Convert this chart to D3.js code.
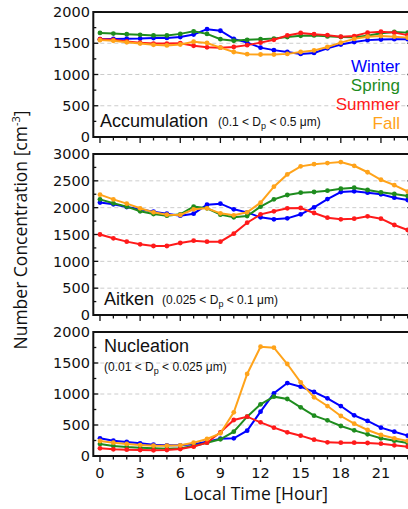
<!DOCTYPE html>
<html>
<head>
<meta charset="utf-8">
<script src="https://cdn.jsdelivr.net/npm/d3@7"></script>
<style>
  body { margin: 0; background: #fff; }
  svg { display: block; }
  .tick-label { font-family: "DejaVu Sans", sans-serif; font-size: 14.5px; fill: #111; }
  .axis-title { font-family: "Open Sans", sans-serif; font-size: 17.5px; fill: #111; }
  .panel-name { font-family: "Liberation Sans", Arial, sans-serif; font-size: 18px; fill: #111; }
  .panel-range { font-family: "Liberation Sans", Arial, sans-serif; font-size: 12px; fill: #111; }
  .legend { font-family: "Liberation Sans", Arial, sans-serif; font-size: 17px; }
</style>
</head>
<body>
<div id="chart"></div>
<script>
var svgWidth = 408;
var svgHeight = 509;

// local hour of day
var hours = [0, 1, 2, 3, 4, 5, 6, 7, 8, 9, 10, 11, 12, 13, 14, 15, 16, 17, 18, 19, 20, 21, 22, 23];
var xTicks = [0, 3, 6, 9, 12, 15, 18, 21];

var seasons = ["Winter", "Spring", "Summer", "Fall"];
var seasonColors = ["#0000ff", "#1e8c1e", "#ff1a1a", "#ffa31a"];

// Accumulation mode (0.1 < Dp < 0.5 um)
var accWinter = [1565, 1568, 1572, 1575, 1583, 1585, 1600, 1640, 1725, 1700, 1570, 1510, 1430, 1390, 1360, 1330, 1345, 1420, 1480, 1520, 1550, 1560, 1565, 1565];
var accSpring = [1665, 1655, 1645, 1635, 1625, 1625, 1650, 1690, 1650, 1565, 1540, 1555, 1565, 1575, 1600, 1620, 1625, 1610, 1600, 1595, 1620, 1660, 1680, 1670];
var accSummer = [1565, 1555, 1530, 1510, 1495, 1495, 1500, 1460, 1435, 1430, 1440, 1470, 1510, 1555, 1625, 1665, 1645, 1630, 1605, 1615, 1670, 1685, 1670, 1630];
var accFall = [1550, 1540, 1515, 1495, 1475, 1465, 1480, 1525, 1505, 1430, 1360, 1325, 1320, 1320, 1330, 1360, 1385, 1440, 1510, 1570, 1605, 1615, 1605, 1590];

// Aitken mode (0.025 < Dp < 0.1 um)
var aitWinter = [2095, 2062, 2012, 1969, 1925, 1888, 1851, 1888, 2056, 2075, 1969, 1913, 1820, 1783, 1801, 1876, 2006, 2161, 2292, 2304, 2279, 2248, 2186, 2143];
var aitSpring = [2155, 2081, 2019, 1932, 1882, 1851, 1876, 2019, 1988, 1870, 1820, 1845, 2019, 2155, 2236, 2279, 2292, 2317, 2354, 2373, 2329, 2286, 2255, 2217];
var aitSummer = [1500, 1429, 1367, 1317, 1286, 1286, 1342, 1385, 1367, 1367, 1516, 1720, 1876, 1932, 1988, 1994, 1901, 1814, 1783, 1795, 1839, 1795, 1677, 1584];
var aitFall = [2242, 2155, 2075, 1988, 1913, 1870, 1863, 1969, 1988, 1894, 1857, 1913, 2093, 2391, 2620, 2770, 2810, 2830, 2850, 2780, 2660, 2520, 2420, 2300];

// Nucleation mode (0.01 < Dp < 0.025 um)
var nucWinter = [285, 247, 226, 204, 183, 172, 172, 188, 231, 280, 285, 409, 715, 1011, 1177, 1118, 1032, 930, 806, 656, 565, 457, 392, 328];
var nucSpring = [194, 161, 145, 134, 124, 118, 124, 161, 215, 269, 392, 634, 833, 957, 919, 785, 651, 575, 484, 414, 349, 285, 247, 210];
var nucSummer = [124, 108, 102, 97, 91, 97, 113, 151, 215, 382, 581, 634, 543, 457, 382, 328, 263, 220, 215, 215, 210, 199, 172, 151];
var nucFall = [242, 215, 194, 177, 167, 167, 172, 215, 274, 366, 704, 1323, 1763, 1747, 1484, 1188, 946, 806, 645, 522, 419, 339, 285, 242];

var panels = [
  { name: "Accumulation", lo: "0.1", hi: "0.5", max: 2000, top: 12, bottom: 137,
    series: [accWinter, accSpring, accSummer, accFall] },
  { name: "Aitken", lo: "0.025", hi: "0.1", max: 3000, top: 154, bottom: 315,
    series: [aitWinter, aitSpring, aitSummer, aitFall] },
  { name: "Nucleation", lo: "0.01", hi: "0.025", max: 2000, top: 332, bottom: 456,
    series: [nucWinter, nucSpring, nucSummer, nucFall] }
];

var svg = d3.select("#chart")
  .append("svg")
  .attr("width", svgWidth)
  .attr("height", svgHeight);

var x = d3.scaleLinear()
  .domain([-0.5, 23.5])
  .range([93.3, 414.4]);

panels.forEach(function(p, pi) {
  var y = d3.scaleLinear()
    .domain([0, p.max])
    .range([p.bottom, p.top]);

  var g = svg.append("g");

  var majors = d3.range(0, p.max + 1, 500);
  var minors = d3.range(250, p.max, 500);

  // dashed gridlines
  g.selectAll(".grid")
    .data(majors.filter(d => d > 0 && d < p.max))
    .enter()
    .append("line")
    .attr("x1", x.range()[0])
    .attr("x2", x.range()[1])
    .attr("y1", d => y(d))
    .attr("y2", d => y(d))
    .attr("stroke", "#cccccc")
    .attr("stroke-width", 1)
    .attr("stroke-dasharray", "4,3");

  // y ticks, inward on both sides
  var yTickData = majors.map(d => ({ v: d, len: 5 })).concat(minors.map(d => ({ v: d, len: 3 })));
  g.selectAll(".ytl")
    .data(yTickData)
    .enter()
    .append("line")
    .attr("x1", x.range()[0])
    .attr("x2", d => x.range()[0] + d.len)
    .attr("y1", d => y(d.v))
    .attr("y2", d => y(d.v))
    .attr("stroke", "#111")
    .attr("stroke-width", 1.3);
  g.selectAll(".ytr")
    .data(yTickData)
    .enter()
    .append("line")
    .attr("x1", x.range()[1])
    .attr("x2", d => x.range()[1] - d.len - 2)
    .attr("y1", d => y(d.v))
    .attr("y2", d => y(d.v))
    .attr("stroke", "#111")
    .attr("stroke-width", 1.3);

  // y tick labels
  g.selectAll(".ylab")
    .data(majors)
    .enter()
    .append("text")
    .attr("class", "tick-label")
    .attr("x", 90)
    .attr("y", d => y(d))
    .attr("dy", "0.36em")
    .attr("text-anchor", "end")
    .text(d => d);

  // x ticks, outward below frame
  g.selectAll(".xt")
    .data(hours.concat([24]))
    .enter()
    .append("line")
    .attr("x1", d => x(d))
    .attr("x2", d => x(d))
    .attr("y1", p.bottom)
    .attr("y2", d => p.bottom + (d % 3 === 0 ? 6 : 3.5))
    .attr("stroke", "#111")
    .attr("stroke-width", 1.3);

  if (pi === panels.length - 1) {
    g.selectAll(".xlab")
      .data(xTicks)
      .enter()
      .append("text")
      .attr("class", "tick-label")
      .attr("x", d => x(d))
      .attr("y", 478)
      .attr("text-anchor", "middle")
      .text(d => d);
  }

  // series lines and markers
  var line = d3.line()
    .x((d, i) => x(hours[i]))
    .y(d => y(d));

  p.series.forEach(function(vals, si) {
    g.append("path")
      .datum(vals)
      .attr("d", line)
      .attr("fill", "none")
      .attr("stroke", seasonColors[si])
      .attr("stroke-width", 2);
    g.selectAll(".pt" + si)
      .data(vals)
      .enter()
      .append("circle")
      .attr("cx", (d, i) => x(hours[i]))
      .attr("cy", d => y(d))
      .attr("r", 2.4)
      .attr("fill", seasonColors[si]);
  });

  // frame
  g.append("rect")
    .attr("x", x.range()[0])
    .attr("y", p.top)
    .attr("width", x.range()[1] - x.range()[0])
    .attr("height", p.bottom - p.top)
    .attr("fill", "none")
    .attr("stroke", "#111")
    .attr("stroke-width", 2);
});

// panel labels
function rangeLabel(t, lo, hi) {
  t.append("tspan").text("(" + lo + " < D");
  t.append("tspan").attr("font-size", "9px").attr("dy", 3).text("p");
  t.append("tspan").attr("dy", -3).text(" < " + hi + " \u03bcm)");
}

svg.append("text").attr("class", "panel-name").attr("x", 100).attr("y", 127).text("Accumulation");
rangeLabel(svg.append("text").attr("class", "panel-range").attr("x", 218).attr("y", 126), panels[0].lo, panels[0].hi);

svg.append("text").attr("class", "panel-name").attr("x", 104).attr("y", 305).text("Aitken");
rangeLabel(svg.append("text").attr("class", "panel-range").attr("x", 162).attr("y", 304), panels[1].lo, panels[1].hi);

svg.append("text").attr("class", "panel-name").attr("x", 104).attr("y", 352).text("Nucleation");
rangeLabel(svg.append("text").attr("class", "panel-range").attr("x", 104).attr("y", 371), panels[2].lo, panels[2].hi);

// legend
svg.selectAll(".legend")
  .data(seasons)
  .enter()
  .append("text")
  .attr("class", "legend")
  .attr("x", 400)
  .attr("y", (d, i) => 72 + i * 19)
  .attr("text-anchor", "end")
  .attr("fill", (d, i) => seasonColors[i])
  .text(d => d);

// axis titles
svg.append("text")
  .attr("class", "axis-title")
  .attr("x", 256)
  .attr("y", 500)
  .attr("font-size", "18.5px")
  .attr("text-anchor", "middle")
  .text("Local Time [Hour]");

var yTitle = svg.append("text")
  .attr("class", "axis-title")
  .attr("transform", "translate(27, 230) rotate(-90)")
  .attr("text-anchor", "middle");
yTitle.append("tspan").text("Number Concentration [cm");
yTitle.append("tspan").attr("font-size", "11px").attr("dy", -7).text("-3");
yTitle.append("tspan").attr("dy", 7).text("]");
</script>
</body>
</html>
